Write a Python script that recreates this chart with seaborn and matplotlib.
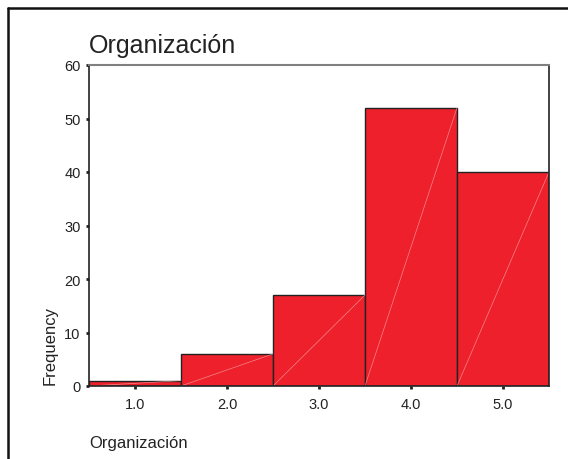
import matplotlib
matplotlib.use("Agg")
import matplotlib.pyplot as plt
import seaborn as sns
from matplotlib.lines import Line2D

# DATA
scores = [1.0, 2.0, 3.0, 4.0, 5.0]
counts = [1, 6, 17, 52, 40]
tick_labels = ["1.0", "2.0", "3.0", "4.0", "5.0"]
y_ticks = [0, 10, 20, 30, 40, 50, 60]

sns.set_style("white")
plt.rcParams["font.family"] = ["Liberation Sans", "DejaVu Sans"]

fig = plt.figure(figsize=(5.68, 4.60), dpi=100)
ax = fig.add_axes([89 / 568, 1 - 387 / 460, 460 / 568, 321 / 460])

sns.histplot(x=scores, weights=counts, discrete=True, ax=ax,
             color="#ee202b", alpha=1, edgecolor="#222222", linewidth=1)

# faint diagonal streaks inside each bar (as in the scanned original)
for p in ax.patches:
    x0, w, h = p.get_x(), p.get_width(), p.get_height()
    ax.plot([x0, x0 + w], [0, h], color="#f6a0a4", linewidth=0.5, alpha=0.8)

ax.set_xlim(0.5, 5.5)
ax.set_ylim(0, 60)
ax.set_xticks(scores)
ax.set_xticklabels(tick_labels)
ax.set_yticks(y_ticks)
ax.tick_params(axis="both", labelsize=10.5, colors="#222222", length=2, width=2,
               direction="out", pad=4, bottom=True, left=True)
ax.tick_params(axis="x", pad=6)

for s in ["left", "bottom", "right"]:
    ax.spines[s].set_color("#222222")
    ax.spines[s].set_linewidth(1.2)
ax.spines["top"].set_color("#808080")
ax.spines["top"].set_linewidth(1.5)

ax.set_ylabel("Frequency", fontsize=12, color="#222222")
ax.yaxis.set_label_coords(-0.068, 0.13)
ax.set_xlabel("")

fig.text(89 / 568, 1 - 53 / 460, "Organización", fontsize=18, color="#222222",
         ha="left", va="baseline")
fig.text(89 / 568, 1 - 448 / 460, "Organización", fontsize=12, color="#222222",
         ha="left", va="baseline")

# outer frame (top and left only, rest is cropped)
fig.add_artist(Line2D([8 / 568, 1], [1 - 9 / 460, 1 - 9 / 460],
                      color="#111111", linewidth=1.8, transform=fig.transFigure))
fig.add_artist(Line2D([8 / 568, 8 / 568], [0, 1 - 9 / 460],
                      color="#111111", linewidth=1.8, transform=fig.transFigure))

fig.savefig("out.png", dpi=100)
